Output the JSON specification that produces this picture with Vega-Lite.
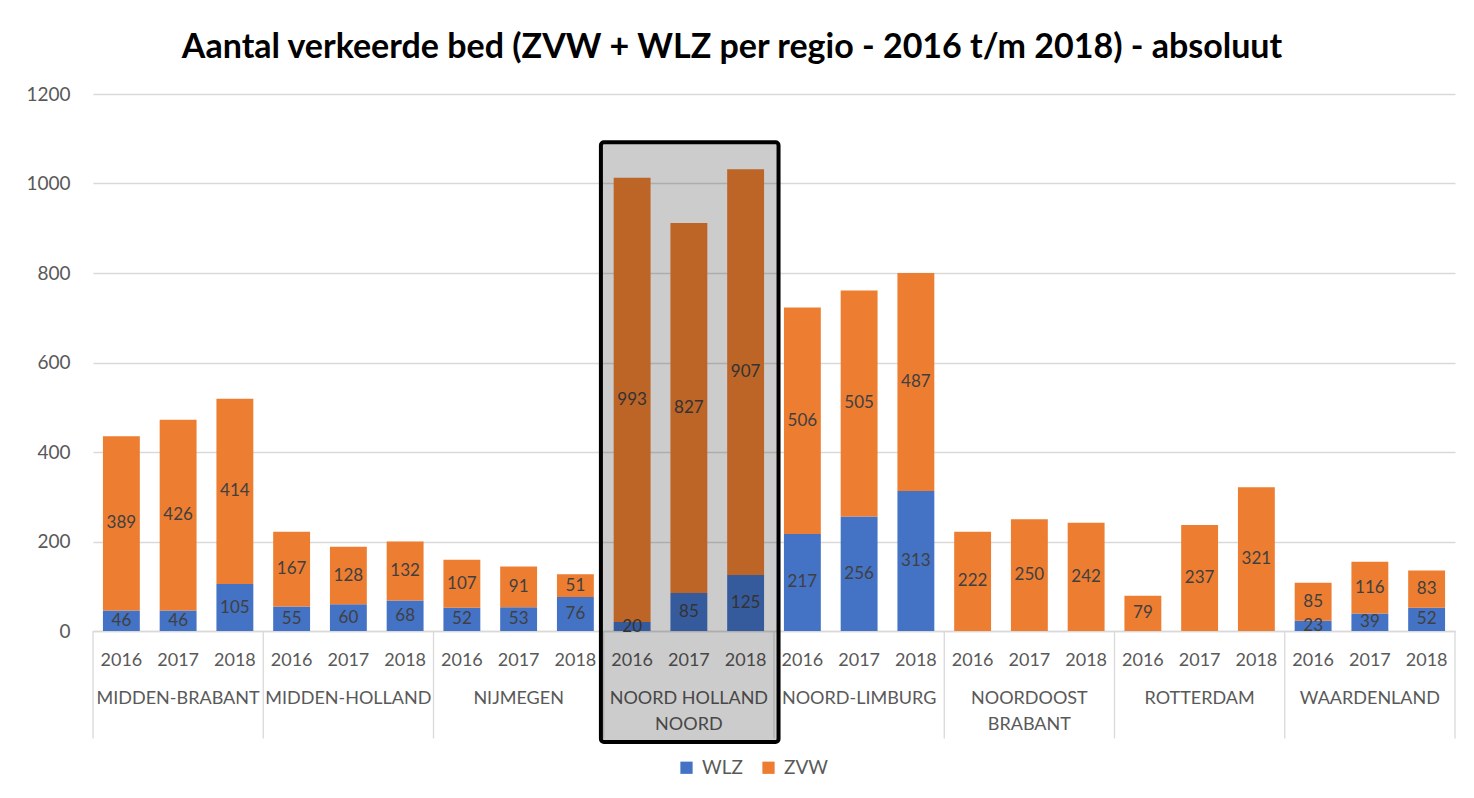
{
  "$schema": "https://vega.github.io/schema/vega-lite/v6.json",
  "autosize": "none",
  "width": 1362,
  "height": 537,
  "padding": {"left": 93, "top": 94, "right": 19, "bottom": 167},
  "background": "white",
  "title": {
    "text": "Aantal verkeerde bed (ZVW + WLZ per regio - 2016 t/m 2018) - absoluut",
    "font": "Lato",
    "fontSize": 34,
    "fontWeight": "bold",
    "color": "#000000",
    "anchor": "middle",
    "baseline": "alphabetic",
    "offset": -7,
    "dx": -42
  },
  "config": {
    "view": {"stroke": null},
    "font": "Lato",
    "axis": {"zindex": 0}
  },
  "datasets": {
    "bars": [
      {"slot": "MIDDEN-BRABANT|2016", "type": "WLZ", "value": 46},
      {"slot": "MIDDEN-BRABANT|2016", "type": "ZVW", "value": 389},
      {"slot": "MIDDEN-BRABANT|2017", "type": "WLZ", "value": 46},
      {"slot": "MIDDEN-BRABANT|2017", "type": "ZVW", "value": 426},
      {"slot": "MIDDEN-BRABANT|2018", "type": "WLZ", "value": 105},
      {"slot": "MIDDEN-BRABANT|2018", "type": "ZVW", "value": 414},
      {"slot": "MIDDEN-HOLLAND|2016", "type": "WLZ", "value": 55},
      {"slot": "MIDDEN-HOLLAND|2016", "type": "ZVW", "value": 167},
      {"slot": "MIDDEN-HOLLAND|2017", "type": "WLZ", "value": 60},
      {"slot": "MIDDEN-HOLLAND|2017", "type": "ZVW", "value": 128},
      {"slot": "MIDDEN-HOLLAND|2018", "type": "WLZ", "value": 68},
      {"slot": "MIDDEN-HOLLAND|2018", "type": "ZVW", "value": 132},
      {"slot": "NIJMEGEN|2016", "type": "WLZ", "value": 52},
      {"slot": "NIJMEGEN|2016", "type": "ZVW", "value": 107},
      {"slot": "NIJMEGEN|2017", "type": "WLZ", "value": 53},
      {"slot": "NIJMEGEN|2017", "type": "ZVW", "value": 91},
      {"slot": "NIJMEGEN|2018", "type": "WLZ", "value": 76},
      {"slot": "NIJMEGEN|2018", "type": "ZVW", "value": 51},
      {"slot": "NOORD HOLLAND NOORD|2016", "type": "WLZ", "value": 20},
      {"slot": "NOORD HOLLAND NOORD|2016", "type": "ZVW", "value": 993},
      {"slot": "NOORD HOLLAND NOORD|2017", "type": "WLZ", "value": 85},
      {"slot": "NOORD HOLLAND NOORD|2017", "type": "ZVW", "value": 827},
      {"slot": "NOORD HOLLAND NOORD|2018", "type": "WLZ", "value": 125},
      {"slot": "NOORD HOLLAND NOORD|2018", "type": "ZVW", "value": 907},
      {"slot": "NOORD-LIMBURG|2016", "type": "WLZ", "value": 217},
      {"slot": "NOORD-LIMBURG|2016", "type": "ZVW", "value": 506},
      {"slot": "NOORD-LIMBURG|2017", "type": "WLZ", "value": 256},
      {"slot": "NOORD-LIMBURG|2017", "type": "ZVW", "value": 505},
      {"slot": "NOORD-LIMBURG|2018", "type": "WLZ", "value": 313},
      {"slot": "NOORD-LIMBURG|2018", "type": "ZVW", "value": 487},
      {"slot": "NOORDOOST BRABANT|2016", "type": "ZVW", "value": 222},
      {"slot": "NOORDOOST BRABANT|2017", "type": "ZVW", "value": 250},
      {"slot": "NOORDOOST BRABANT|2018", "type": "ZVW", "value": 242},
      {"slot": "ROTTERDAM|2016", "type": "ZVW", "value": 79},
      {"slot": "ROTTERDAM|2017", "type": "ZVW", "value": 237},
      {"slot": "ROTTERDAM|2018", "type": "ZVW", "value": 321},
      {"slot": "WAARDENLAND|2016", "type": "WLZ", "value": 23},
      {"slot": "WAARDENLAND|2016", "type": "ZVW", "value": 85},
      {"slot": "WAARDENLAND|2017", "type": "WLZ", "value": 39},
      {"slot": "WAARDENLAND|2017", "type": "ZVW", "value": 116},
      {"slot": "WAARDENLAND|2018", "type": "WLZ", "value": 52},
      {"slot": "WAARDENLAND|2018", "type": "ZVW", "value": 83}
    ],
    "regions": [
      {"slot": "MIDDEN-BRABANT|2017", "first": "MIDDEN-BRABANT|2016", "label": "MIDDEN-BRABANT"},
      {"slot": "MIDDEN-HOLLAND|2017", "first": "MIDDEN-HOLLAND|2016", "label": "MIDDEN-HOLLAND"},
      {"slot": "NIJMEGEN|2017", "first": "NIJMEGEN|2016", "label": "NIJMEGEN"},
      {"slot": "NOORD HOLLAND NOORD|2017", "first": "NOORD HOLLAND NOORD|2016", "label": "NOORD HOLLAND\nNOORD"},
      {"slot": "NOORD-LIMBURG|2017", "first": "NOORD-LIMBURG|2016", "label": "NOORD-LIMBURG"},
      {"slot": "NOORDOOST BRABANT|2017", "first": "NOORDOOST BRABANT|2016", "label": "NOORDOOST\nBRABANT"},
      {"slot": "ROTTERDAM|2017", "first": "ROTTERDAM|2016", "label": "ROTTERDAM"},
      {"slot": "WAARDENLAND|2017", "first": "WAARDENLAND|2016", "label": "WAARDENLAND"}
    ],
    "lastEdge": [
      {"slot": "WAARDENLAND|2018"}
    ],
    "highlight": [
      {"start": 8.95, "end": 12.08, "top": 1092, "bottom": -248}
    ]
  },
  "resolve": {"scale": {"x": "independent"}},
  "layer": [
    {
      "layer": [
        {
          "data": {"name": "bars"},
          "mark": {"type": "bar", "width": {"band": 0.65}},
          "encoding": {
            "x": {
              "field": "slot",
              "type": "nominal",
              "scale": {"paddingInner": 0, "paddingOuter": 0},
              "axis": {
                "title": null,
                "bandPosition": 0.5,
                "labelExpr": "split(datum.label, '|')[1]",
                "labelAngle": 0,
                "labelAlign": "center",
                "labelFont": "Lato",
                "labelFontSize": 18,
                "labelColor": "#595959",
                "labelBaseline": "middle",
                "labelPadding": 29,
                "ticks": false,
                "domainColor": "#D9D9D9",
                "domainWidth": 1.3,
                "grid": false
              }
            },
            "y": {
              "field": "value",
              "type": "quantitative",
              "stack": "zero",
              "scale": {"domain": [0, 1200], "nice": false, "zero": false},
              "axis": {
                "title": null,
                "values": [0, 200, 400, 600, 800, 1000, 1200],
                "format": "d",
                "labelFont": "Lato",
                "labelFontSize": 19,
                "labelColor": "#595959",
                "labelPadding": 23,
                "ticks": false,
                "domain": false,
                "gridColor": "#D9D9D9",
                "gridWidth": 1.3
              }
            },
            "color": {
              "field": "type",
              "type": "nominal",
              "scale": {"domain": ["WLZ", "ZVW"], "range": ["#4472C4", "#ED7D31"]},
              "legend": {
                "title": null,
                "orient": "none",
                "direction": "horizontal",
                "legendX": 584,
                "legendY": 664,
                "padding": 0,
                "symbolType": "square",
                "symbolSize": 150,
                "symbolStrokeWidth": 0,
                "labelFont": "Lato",
                "labelFontSize": 19,
                "labelColor": "#595959",
                "labelOffset": 6,
                "columnPadding": 16
              }
            },
            "order": {"field": "type"}
          }
        },
        {
          "data": {"name": "regions"},
          "mark": {"type": "rule", "color": "#D9D9D9", "strokeWidth": 1.3},
          "encoding": {
            "x": {"field": "first", "type": "nominal", "bandPosition": 0},
            "y": {"datum": 0, "type": "quantitative"},
            "y2": {"datum": -240}
          }
        },
        {
          "data": {"name": "lastEdge"},
          "mark": {"type": "rule", "color": "#D9D9D9", "strokeWidth": 1.3},
          "encoding": {
            "x": {"field": "slot", "type": "nominal", "bandPosition": 1},
            "y": {"datum": 0, "type": "quantitative"},
            "y2": {"datum": -240}
          }
        },
        {
          "data": {"name": "bars"},
          "mark": {"type": "text", "font": "Lato", "fontSize": 17, "color": "#404040", "baseline": "middle"},
          "encoding": {
            "x": {"field": "slot", "type": "nominal"},
            "y": {"field": "value", "type": "quantitative", "stack": "zero", "bandPosition": 0.5},
            "detail": {"field": "type"},
            "order": {"field": "type"},
            "text": {"field": "value", "type": "quantitative"}
          }
        },
        {
          "data": {"name": "regions"},
          "mark": {"type": "text", "font": "Lato", "fontSize": 18, "color": "#595959", "baseline": "top", "dy": 59, "lineBreak": "\n", "lineHeight": 26},
          "encoding": {
            "x": {"field": "slot", "type": "nominal"},
            "y": {"datum": 0, "type": "quantitative"},
            "text": {"field": "label"}
          }
        }
      ]
    },
    {
      "data": {"name": "highlight"},
      "mark": {"type": "rect", "fill": "#000000", "fillOpacity": 0.2, "stroke": "#000000", "strokeWidth": 4, "cornerRadius": 3},
      "encoding": {
        "x": {"field": "start", "type": "quantitative", "scale": {"domain": [0, 24], "nice": false, "zero": false}, "axis": null},
        "x2": {"field": "end"},
        "y": {"field": "top", "type": "quantitative"},
        "y2": {"field": "bottom"}
      }
    }
  ]
}
